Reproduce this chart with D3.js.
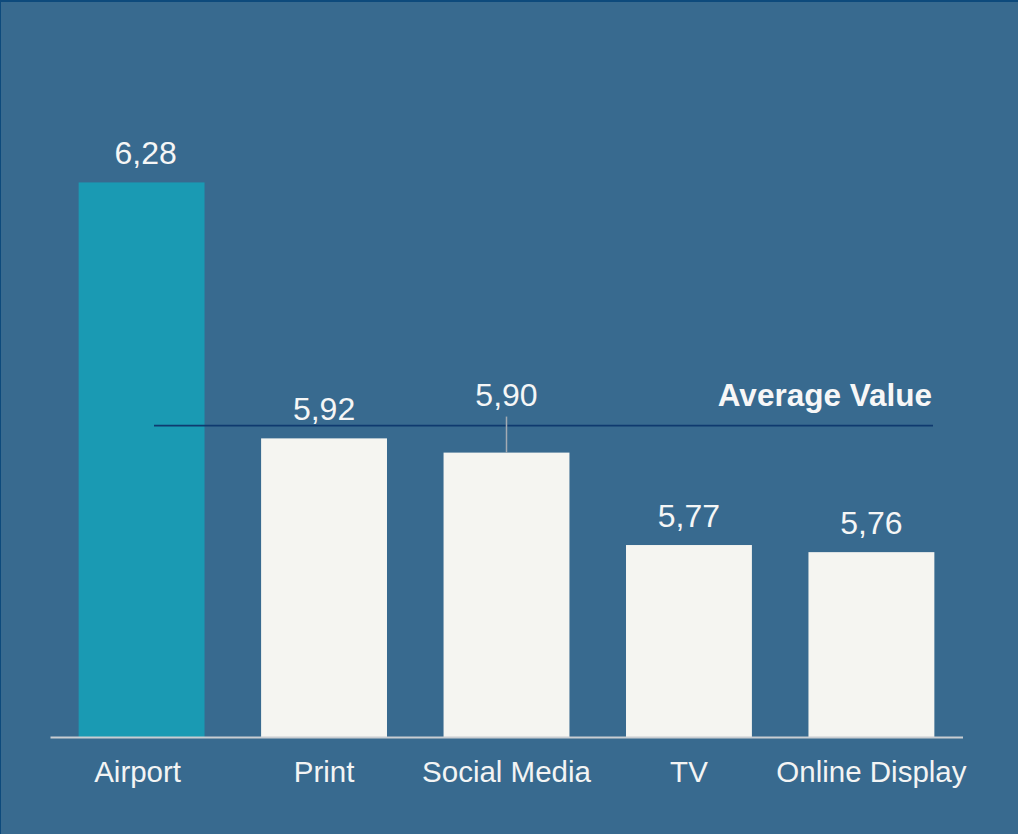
<!DOCTYPE html>
<html>
<head>
<meta charset="utf-8">
<script src="https://cdn.jsdelivr.net/npm/d3@7/dist/d3.min.js"></script>
<style>
  html, body { margin: 0; padding: 0; background: #386a8f; }
  body { width: 1018px; height: 834px; overflow: hidden; }
  svg { display: block; font-family: "Liberation Sans", Arial, sans-serif; }
</style>
</head>
<body>
<div class="holder"></div>
<script>
// chart data
var categories = ["Airport", "Print", "Social Media", "TV", "Online Display"];
var values = [6.28, 5.92, 5.90, 5.77, 5.76];
var highlight = "Airport";
var averageValue = 5.938;
var averageLabel = "Average Value";

var width = 1018,
    height = 834;

var nl = d3.formatLocale({ decimal: ",", thousands: ".", grouping: [3], currency: ["", ""] });
var fmt = nl.format(".2f");

var x = d3.scaleBand()
    .domain(categories)
    .range([50, 963])
    .paddingInner(0.31)
    .paddingOuter(0.157);

// axis starts at 5.5, not at zero
var y = d3.scaleLinear()
    .domain([5.5, 6.5])
    .range([737, 26]);

var svg = d3.select(".holder").append("svg")
    .attr("width", width)
    .attr("height", height);

svg.append("rect")
    .attr("width", width)
    .attr("height", height)
    .attr("fill", "#386a8f");

// thin dark frame top / left
svg.append("rect").attr("x", 0).attr("y", 0).attr("width", width).attr("height", 2).attr("fill", "#0d4a7c");
svg.append("rect").attr("x", 0).attr("y", 0).attr("width", 1).attr("height", height).attr("fill", "#0d4a7c");

var data = categories.map(function(c, i) { return { name: c, value: values[i] }; });

svg.append("g")
    .selectAll("rect")
    .data(data)
    .enter().append("rect")
    .attr("x", d => x(d.name))
    .attr("y", d => y(d.value))
    .attr("width", x.bandwidth())
    .attr("height", d => y.range()[0] - y(d.value))
    .attr("fill", d => d.name == highlight ? "#1a9ab3" : "#f5f5f1");

// x axis: just the baseline and labels
var xAxis = svg.append("g")
    .attr("transform", "translate(0," + y.range()[0] + ")")
    .call(d3.axisBottom(x).tickSize(0).tickPadding(45));

xAxis.select(".domain")
    .attr("d", "M50.5,0.5H963")
    .attr("stroke", "#c9cdd2")
    .attr("stroke-width", 2);

xAxis.selectAll("text")
    .attr("dy", 0)
    .attr("fill", "#f3f4f4")
    .style("font-size", "29.5px")
    .style("font-family", "'Liberation Sans', Arial, sans-serif");

// the Airport label sits a little left of its bar centre
xAxis.selectAll(".tick text")
    .attr("dx", (d, i) => i == 0 ? -4 : 0);

// average line
var avgY = y(averageValue);
svg.append("line")
    .attr("x1", 154)
    .attr("x2", 933)
    .attr("y1", avgY)
    .attr("y2", avgY)
    .attr("stroke", "#0f3a6f")
    .attr("stroke-width", 1.6);

svg.append("text")
    .attr("x", 932)
    .attr("y", avgY - 20)
    .attr("text-anchor", "end")
    .attr("fill", "#f7f7f7")
    .style("font-size", "31.5px")
    .style("font-weight", "bold")
    .text(averageLabel);

// value labels, moved above the average line when they would cross it
var capH = 22;
data.forEach(function(d) {
    var top = y(d.value);
    var base = top - 18.5;
    d.moved = base > avgY - 3 && base - capH < avgY;
    d.labelY = d.moved ? avgY - 20 : base;
});

svg.append("g")
    .selectAll("line")
    .data(data.filter(d => d.moved))
    .enter().append("line")
    .attr("x1", d => x(d.name) + x.bandwidth() / 2)
    .attr("x2", d => x(d.name) + x.bandwidth() / 2)
    .attr("y1", d => d.labelY + 11)
    .attr("y2", d => y(d.value))
    .attr("stroke", "#a3abb3")
    .attr("stroke-width", 1.5);

svg.append("g")
    .selectAll("text")
    .data(data)
    .enter().append("text")
    .attr("x", d => x(d.name) + x.bandwidth() / 2 + (d.name == highlight ? 4 : 0))
    .attr("y", d => d.labelY)
    .attr("text-anchor", "middle")
    .attr("fill", "#f5f6f6")
    .style("font-size", "32px")
    .text(d => fmt(d.value));
</script>
</body>
</html>
